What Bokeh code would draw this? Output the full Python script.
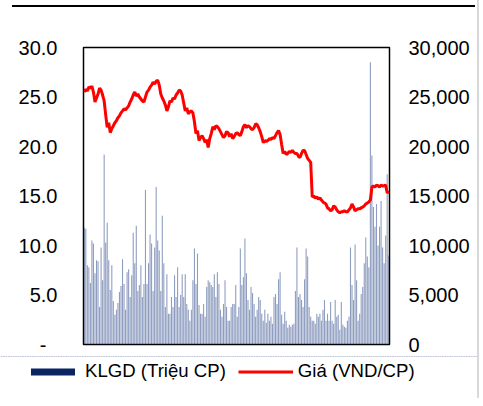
from bokeh.plotting import figure
from bokeh.models import (Range1d, LinearAxis, FixedTicker, NumeralTickFormatter,
                          Legend, LegendItem, Div)
from bokeh.layouts import column, row
from bokeh.embed import file_html
from bokeh.resources import INLINE

# Trading volume (million shares), daily
volume = [
    11.8, 11.7, 8.0, 7.8, 6.2, 10.5, 10.2, 7.2, 8.5, 8.4,
    3.8, 9.8, 6.5, 19.2, 10.3, 12.3, 8.5, 5.5, 8.0, 4.4,
    3.0, 3.5, 4.2, 5.3, 5.9, 8.6, 6.1, 3.5, 7.3, 7.6,
    4.8, 7.0, 11.3, 8.2, 12.0, 5.4, 6.0, 8.0, 4.8, 6.1,
    15.6, 6.1, 8.2, 11.1, 10.2, 5.4, 9.8, 15.9, 10.5, 9.5,
    5.4, 13.0, 8.2, 3.8, 7.1, 3.1, 3.1, 4.8, 3.8, 7.0,
    4.8, 7.8, 3.8, 5.0, 7.1, 4.8, 7.1, 4.1, 3.5, 2.4,
    3.5, 6.5, 9.7, 6.1, 9.2, 4.0, 3.1, 3.1, 4.1, 2.8,
    5.8, 6.5, 6.3, 6.0, 5.8, 7.1, 4.8, 7.3, 6.1, 3.5,
    2.8, 4.1, 6.5, 3.8, 2.4, 2.4, 3.8, 4.1, 4.1, 6.0,
    2.8, 3.8, 9.7, 6.0, 6.8, 10.7, 7.2, 4.5, 3.5, 5.8,
    5.2, 4.1, 2.8, 3.5, 4.8, 4.5, 3.1, 2.4, 3.5, 2.2,
    3.1, 2.4, 2.8, 2.1, 4.8, 5.1, 4.1, 6.6, 7.3, 3.0,
    2.1, 3.3, 2.4, 1.7, 2.0, 1.8, 2.0, 2.1, 5.4, 9.8,
    4.8, 5.1, 4.5, 3.8, 6.6, 9.7, 8.9, 3.8, 2.8, 2.4,
    2.4, 2.1, 3.1, 2.8, 3.1, 2.4, 3.5, 4.5, 2.4, 3.1,
    2.4, 4.3, 2.4, 2.1, 4.5, 2.8, 3.0, 1.5, 4.3, 2.0,
    1.8, 1.7, 2.4, 2.8, 9.8, 6.0, 4.5, 10.1, 6.5, 2.4,
    3.1, 5.1, 5.8, 8.2, 10.8, 8.9, 7.8, 28.5, 19.1, 13.9,
    11.9, 14.2, 10.0, 11.9, 14.5, 9.8, 8.2, 11.0, 17.2, 9.0,
]

# Closing price (VND/share), daily
price = [
    25500, 25800, 25600, 26000, 25900, 26100, 25500, 24500, 24900, 25300,
    25900, 25700, 25200, 24600, 23200, 21950, 22400, 21400, 21800, 22100,
    22400, 22600, 22900, 23100, 23400, 23600, 23800, 23700, 23900, 24100,
    24500, 24800, 25200, 25500, 25100, 25300, 25000, 24800, 24600, 24500,
    25000, 25500, 25700, 26000, 26200, 26500, 26300, 26600, 26700, 26200,
    25300, 24900, 24600, 24200, 23600, 24000, 24600, 24500, 24900, 24800,
    25200, 25400, 25700, 25600, 25200, 24400, 23600, 23900, 23300, 23500,
    23600, 23400, 22500, 21300, 21600, 20600, 20900, 21100, 20800, 20400,
    20700, 19900, 20800, 21300, 22000, 21700, 22100, 22000, 21800, 21500,
    21200, 20900, 21100, 21500, 21400, 21000, 21300, 20800, 21000, 21300,
    21400, 21200, 21100, 21500, 22000, 22200, 21900, 22100, 22000, 21800,
    21700, 21900, 22300, 22200, 21900, 21500, 21000, 20400, 20600, 20500,
    20600, 20800, 20700, 20900, 20800, 21100, 21400, 21600, 21200, 20200,
    19300, 19500, 19200, 19300, 19500, 19400, 19600, 19400, 19300, 19300,
    19000, 18900, 19300, 19600, 19600, 19200, 18800, 18600, 18400, 14900,
    15000, 14800, 14900, 14700, 14800, 14600, 14400, 14300, 14200, 13800,
    13700, 13500, 13600, 14000, 13900, 13600, 13400, 13300, 13400, 13400,
    13500, 13400, 13400, 13600, 13800, 14200, 13900, 13500, 13600, 13700,
    13700, 13800, 13900, 14000, 14200, 14300, 14400, 14600, 15900, 16000,
    15900, 16100, 16050, 15900, 16100, 16000, 16050, 16100, 15300, 15500,
]

left_ticks = [0, 5, 10, 15, 20, 25, 30]
left_labels = ["-\u00a0\u00a0", "5.0", "10.0", "15.0", "20.0", "25.0", "30.0"]
right_ticks = [0, 5000, 10000, 15000, 20000, 25000, 30000]

legend_labels = ["KLGD (Triệu CP)", "Giá (VND/CP)"]

days = list(range(len(volume)))

FONT = "Liberation Sans"
BAR_LEGEND = "#0B2462"
RED = "#FF0000"

# ---- main chart ----
p = figure(width=477, height=349, output_backend="svg", toolbar_location=None,
           x_range=Range1d(-0.5, len(volume) - 0.5), y_range=Range1d(0, 30),
           min_border_left=83, min_border_right=88, min_border_top=40,
           min_border_bottom=12)
p.extra_y_ranges = {"price": Range1d(0, 30000)}

p.xaxis.visible = False
p.xgrid.visible = False
p.ygrid.visible = False
p.outline_line_color = "black"
p.outline_line_width = 1.5
p.background_fill_color = "white"
p.border_fill_color = "white"

p.vbar(x=days, top=volume, width=0.7, fill_color="#1C3A80",
       fill_alpha=0.5, line_color=None)
p.line(x=days, y=price, y_range_name="price", line_color=RED, line_width=3)

yl = p.yaxis[0]
yl.ticker = FixedTicker(ticks=left_ticks)
yl.major_label_overrides = {t: l for t, l in zip(left_ticks, left_labels)}
yr = LinearAxis(y_range_name="price", ticker=FixedTicker(ticks=right_ticks),
                formatter=NumeralTickFormatter(format="0,0"))
p.add_layout(yr, "right")

for ax, so in ((yl, 26), (yr, 19)):
    ax.axis_line_color = None
    ax.major_tick_line_color = None
    ax.minor_tick_line_color = None
    ax.major_tick_out = 0
    ax.major_tick_in = 0
    ax.minor_tick_out = 0
    ax.minor_tick_in = 0
    ax.major_label_standoff = so
    ax.major_label_text_font = FONT
    ax.major_label_text_font_size = "20px"
    ax.major_label_text_color = "black"

# ---- legend strip (its series sit outside its visible ranges; only the keys show) ----
lg = figure(width=477, height=34, output_backend="svg", toolbar_location=None,
            x_range=Range1d(-0.5, len(volume) - 0.5), y_range=Range1d(-60, -50),
            min_border=0, min_border_left=0, min_border_right=0,
            min_border_top=0, min_border_bottom=0)
lg.extra_y_ranges = {"price": Range1d(-60000, -50000)}
lg.axis.visible = False
lg.grid.visible = False
lg.outline_line_color = None
lg.border_fill_color = "white"
lg.background_fill_color = "white"
bar_key = lg.vbar(x=days, top=volume, width=0.75, fill_color=BAR_LEGEND,
                  line_color=None)
line_key = lg.line(x=days, y=price, y_range_name="price", line_color=RED,
                   line_width=3)

pad = 2
legend = Legend(items=[LegendItem(label=legend_labels[0], renderers=[bar_key]),
                       LegendItem(label=legend_labels[1], renderers=[line_key])],
                orientation="horizontal", location=(27 - pad, 8),
                glyph_width=55, glyph_height=9, label_standoff=5, spacing=12,
                padding=pad, margin=0, border_line_color=None,
                background_fill_alpha=0, label_text_font=FONT,
                label_text_font_size="18.6px", label_text_color="black")
lg.add_layout(legend, "center")

# ---- decorative frame lines of the source page ----
top_rule = Div(text="", width=463, height=2, margin=(5, 0, 0, 12),
               styles={"background-color": "black"})
side_rule = Div(text="", width=2, height=398, margin=(0, 0, 0, 0),
                styles={"background-color": "#d9d9d9"})

layout = row(column(top_rule, p, row(lg), spacing=0), side_rule, spacing=0)

open("out.html", "w").write(file_html(layout, INLINE))
